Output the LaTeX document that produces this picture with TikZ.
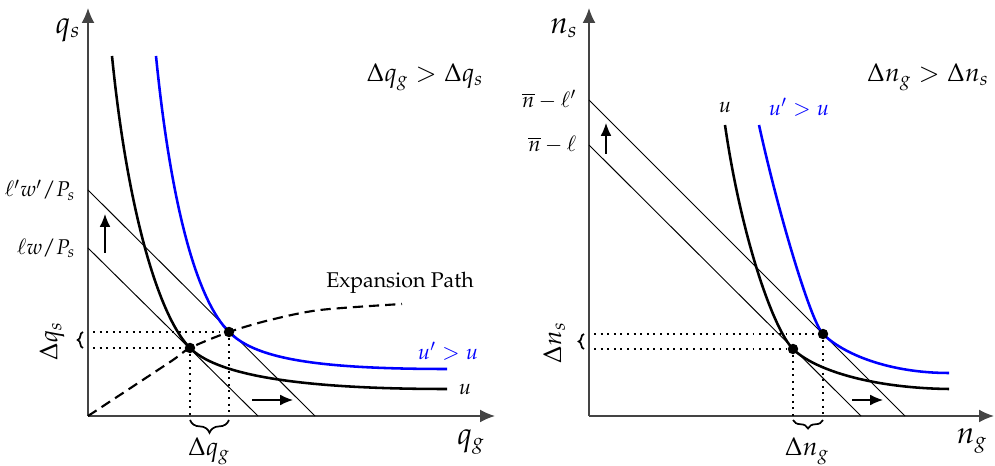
\documentclass[tikz,border=0pt]{standalone}
\usepackage[T1]{fontenc}
\usepackage{amsmath,amssymb}
\usepackage{mathpazo}
\usetikzlibrary{arrows.meta,decorations.pathreplacing}
\definecolor{axisgray}{HTML}{444444}
\definecolor{curveblue}{HTML}{0000FF}
\tikzset{
  axis/.style={axisgray,line width=0.7pt,-{Latex[length=7pt,width=6pt]}},
  budget/.style={line width=0.45pt},
  indiff/.style={line width=1.2pt},
  guide/.style={line width=0.9pt,dash pattern=on 0.9pt off 2.2pt},
  pathline/.style={line width=1pt,dash pattern=on 4.8pt off 2.8pt},
  shiftarrow/.style={line width=0.6pt,-{Latex[length=6pt,width=5pt]}},
  eqpt/.style={circle,fill,inner sep=0pt,minimum size=4.9pt},
  lbl/.style={font=\large},
  axlbl/.style={font=\Large},
  sbrace/.style={thick,decorate,decoration={brace,amplitude=#1}},
}

\begin{document}
\begin{tikzpicture}[x=0.0165cm,y=0.0165cm]
  \useasboundingbox (0,0) rectangle (995,466);
  % left panel: goods
  \begin{scope}[shift={(88,50)}]
    \draw[axis] (0,0) -- (0,408);
    \draw[axis] (0,0) -- (407,0);
    \node[axlbl] (qs) at (-20,386) {$q_s$};
    \node[axlbl] (qg) at (383,-26) {$q_g$};
    \node[lbl] (cmpq) at (337,339) {$\Delta q_g > \Delta q_s$};
    \draw[budget] (0,168) -- (170,0);
    \draw[budget] (0,226) -- (227,0);
    \node[anchor=east] (bud1) at (-5,168) {$\ell w/P_s$};
    \node[anchor=east] (bud2) at (-5,226) {$\ell' w'/P_s$};
    \draw[shiftarrow] (17,163) -- (17,202);
    \draw[shiftarrow] (164,16) -- (205,16);
    \draw[pathline] plot[smooth] coordinates {(0,0) (82,54) (102,68) (141,84) (182,96) (232,106) (314,112)};
    \node (expath) at (312,133) {Expansion Path};
    \draw[indiff] (24,360) .. controls (40,200) and (72,98) .. (102,68)
      .. controls (127,43) and (200,27) .. (359,27);
    \draw[indiff,curveblue] (68,360) .. controls (84,200) and (111,114) .. (141,84)
      .. controls (166,59) and (220,47) .. (359,47);
    \node (ulab) at (377,27) {$u$};
    \node[curveblue] (uplab) at (360,65) {$u' > u$};
    \node[eqpt] (e1) at (102,68) {};
    \node[eqpt] (e2) at (141,84) {};
    \coordinate (e1y) at (5,68);
    \coordinate (e2y) at (5,84);
    \coordinate (e1x) at (102,0);
    \coordinate (e2x) at (141,0);
    \draw[guide] (e1y) -- (e1);
    \draw[guide] (e2y) -- (e2);
    \draw[guide] (e1) -- (e1x);
    \draw[guide] (e2) -- (e2x);
    \draw[sbrace=2.5pt] (-5,68) -- (-5,84);
    \draw[sbrace=6pt] (141,-4) -- (102,-4);
    \node[lbl,rotate=90] (dqs) at (-36,75) {$\Delta q_s$};
    \node[lbl] (dqg) at (121,-35) {$\Delta q_g$};
  \end{scope}
  % right panel: labour
  \begin{scope}[shift={(589,50)}]
    \draw[axis] (0,0) -- (0,408);
    \draw[axis] (0,0) -- (405,0);
    \node[axlbl] (ns) at (-25,388) {$n_s$};
    \node[axlbl] (ng) at (383,-25) {$n_g$};
    \node[lbl] (cmpn) at (339,339) {$\Delta n_g > \Delta n_s$};
    \draw[budget] (0,271) -- (272,0);
    \draw[budget] (0,316) -- (316,0);
    \node[anchor=east] (time1) at (-5,271) {$\overline{n}-\ell$};
    \node[anchor=east] (time2) at (-5,316) {$\overline{n}-\ell'$};
    \draw[shiftarrow] (17,262) -- (17,293);
    \draw[shiftarrow] (263,16) -- (294,16);
    \draw[indiff] (136,291) .. controls (152,180) and (184,87) .. (204,67)
      .. controls (224,47) and (280,28) .. (360,27);
    \draw[indiff,curveblue] (170,291) .. controls (190,200) and (222,94) .. (234,82)
      .. controls (254,62) and (300,43) .. (360,43);
    \node (ulab2) at (136,309) {$u$};
    \node[curveblue] (uplab2) at (210,309) {$u' > u$};
    \node[eqpt] (f1) at (204,67) {};
    \node[eqpt] (f2) at (234,82) {};
    \coordinate (f1y) at (5,67);
    \coordinate (f2y) at (5,82);
    \coordinate (f1x) at (204,0);
    \coordinate (f2x) at (234,0);
    \draw[guide] (f1y) -- (f1);
    \draw[guide] (f2y) -- (f2);
    \draw[guide] (f1) -- (f1x);
    \draw[guide] (f2) -- (f2x);
    \draw[sbrace=2.5pt] (-5,67) -- (-5,82);
    \draw[sbrace=4pt] (234,-4) -- (204,-4);
    \node[lbl,rotate=90] (dns) at (-35,73) {$\Delta n_s$};
    \node[lbl] (dng) at (218,-35) {$\Delta n_g$};
  \end{scope}
\end{tikzpicture}
\end{document}
